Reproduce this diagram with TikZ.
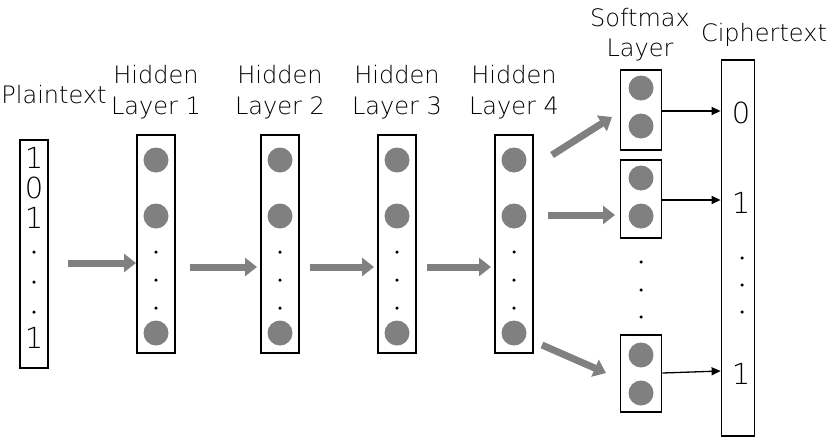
\documentclass[tikz,border=0pt]{standalone}
\usepackage{fontspec}
\setmainfont{DejaVu Sans ExtraLight}
\usetikzlibrary{arrows.meta}
\begin{document}
\begin{tikzpicture}[x=1pt,y=-1pt,
  lbl/.style={font=\fontsize{24}{26}\selectfont,inner sep=0pt},
  dig/.style={font=\fontsize{29}{30}\selectfont,inner sep=0pt},
  dotc/.style={circle,fill=black,minimum size=3.5pt,inner sep=0pt},
  col/.style={draw=black,line width=1.8pt,inner sep=0pt},
  neu/.style={circle,minimum size=25pt,inner sep=0pt},
  fat/.style={line width=7pt,-{Triangle[length=12pt,width=18pt]}},
  thin/.style={draw=black,line width=1.3pt,-{Triangle[length=9pt,width=8pt]}}]
\useasboundingbox (0,0) rectangle (830,437);
\definecolor{neug}{RGB}{128,128,128}
\tikzset{neu/.append style={fill=neug},fat/.append style={draw=neug}}
% plaintext
\node[lbl] (pl) at (54,95) {Plaintext};
\node[col,minimum width=28pt,minimum height=228pt] (pb) at (34,254) {};
\node[dig] (p1) at (34,158) {1};
\node[dig] (p2) at (34,188) {0};
\node[dig] (p3) at (34,218) {1};
\foreach \y/\n in {252/a,282/b,312/c} \node[dotc] (pd\n) at (34,\y) {};
\node[dig] (p4) at (34,338) {1};
% hidden layers
\foreach \i/\x in {1/156,2/280,3/397,4/514}{
  \node[lbl] (ht\i) at (\x,75) {Hidden};
  \node[lbl] (hl\i) at (\x,108) {Layer \i};
  \node[col,minimum width=38pt,minimum height=218pt] (h\i) at (\x,244) {};
  \node[neu] (h\i a) at (\x,160) {};
  \node[neu] (h\i b) at (\x,216) {};
  \node[neu] (h\i c) at (\x,333) {};
  \foreach \y/\n in {252/a,280/b,308/c} \node[dotc] (h\i d\n) at (\x,\y) {};
}
\coordinate (a0s) at (68,263); \coordinate (a0e) at (136,263);
\draw[fat] (a0s) -- (a0e);
\coordinate (a1s) at (190,267); \coordinate (a1e) at (257,267);
\draw[fat] (a1s) -- (a1e);
\coordinate (a2s) at (310,267); \coordinate (a2e) at (374,267);
\draw[fat] (a2s) -- (a2e);
\coordinate (a3s) at (427,267); \coordinate (a3e) at (491,267);
\draw[fat] (a3s) -- (a3e);
% softmax
\node[lbl] (st) at (640,18) {Softmax};
\node[lbl] (sl) at (640,50) {Layer};
\foreach \i/\yt/\yb in {1/70/150,2/160/238,3/335/412}{
  \node[col,minimum width=41pt,minimum height={(\yb-\yt)*1pt}] (s\i) at (641,{(\yt+\yb)/2}) {};
}
\foreach \i/\ya/\yb in {1/88/126,2/178/216,3/355/393}{
  \node[neu] (s\i a) at (641,\ya) {};
  \node[neu] (s\i b) at (641,\yb) {};
}
\foreach \y/\n in {262/a,290/b,317/c} \node[dotc] (sd\n) at (641,\y) {};
\coordinate (b1s) at (552,155); \coordinate (b1e) at (612,117);
\draw[fat] (b1s) -- (b1e);
\coordinate (b2s) at (548,215); \coordinate (b2e) at (615,215);
\draw[fat] (b2s) -- (b2e);
\coordinate (b3s) at (542,345); \coordinate (b3e) at (606,373);
\draw[fat] (b3s) -- (b3e);
% ciphertext
\node[lbl] (ct) at (764,35) {Ciphertext};
\node[col,minimum width=33pt,minimum height=376pt] (cb) at (738,248) {};
\node[dig] (c1) at (741,113) {0};
\node[dig] (c2) at (741,203) {1};
\foreach \y/\n in {258/a,285/b,312/c} \node[dotc] (cd\n) at (742,\y) {};
\node[dig] (c3) at (741,374) {1};
\draw[thin] (s1.east |- 0,111) -- (cb.west |- 0,111);
\draw[thin] (s2.east |- 0,200) -- (cb.west |- 0,200);
\draw[thin] (s3.east |- 0,373) -- (cb.west |- 0,371);
\end{tikzpicture}
\end{document}
